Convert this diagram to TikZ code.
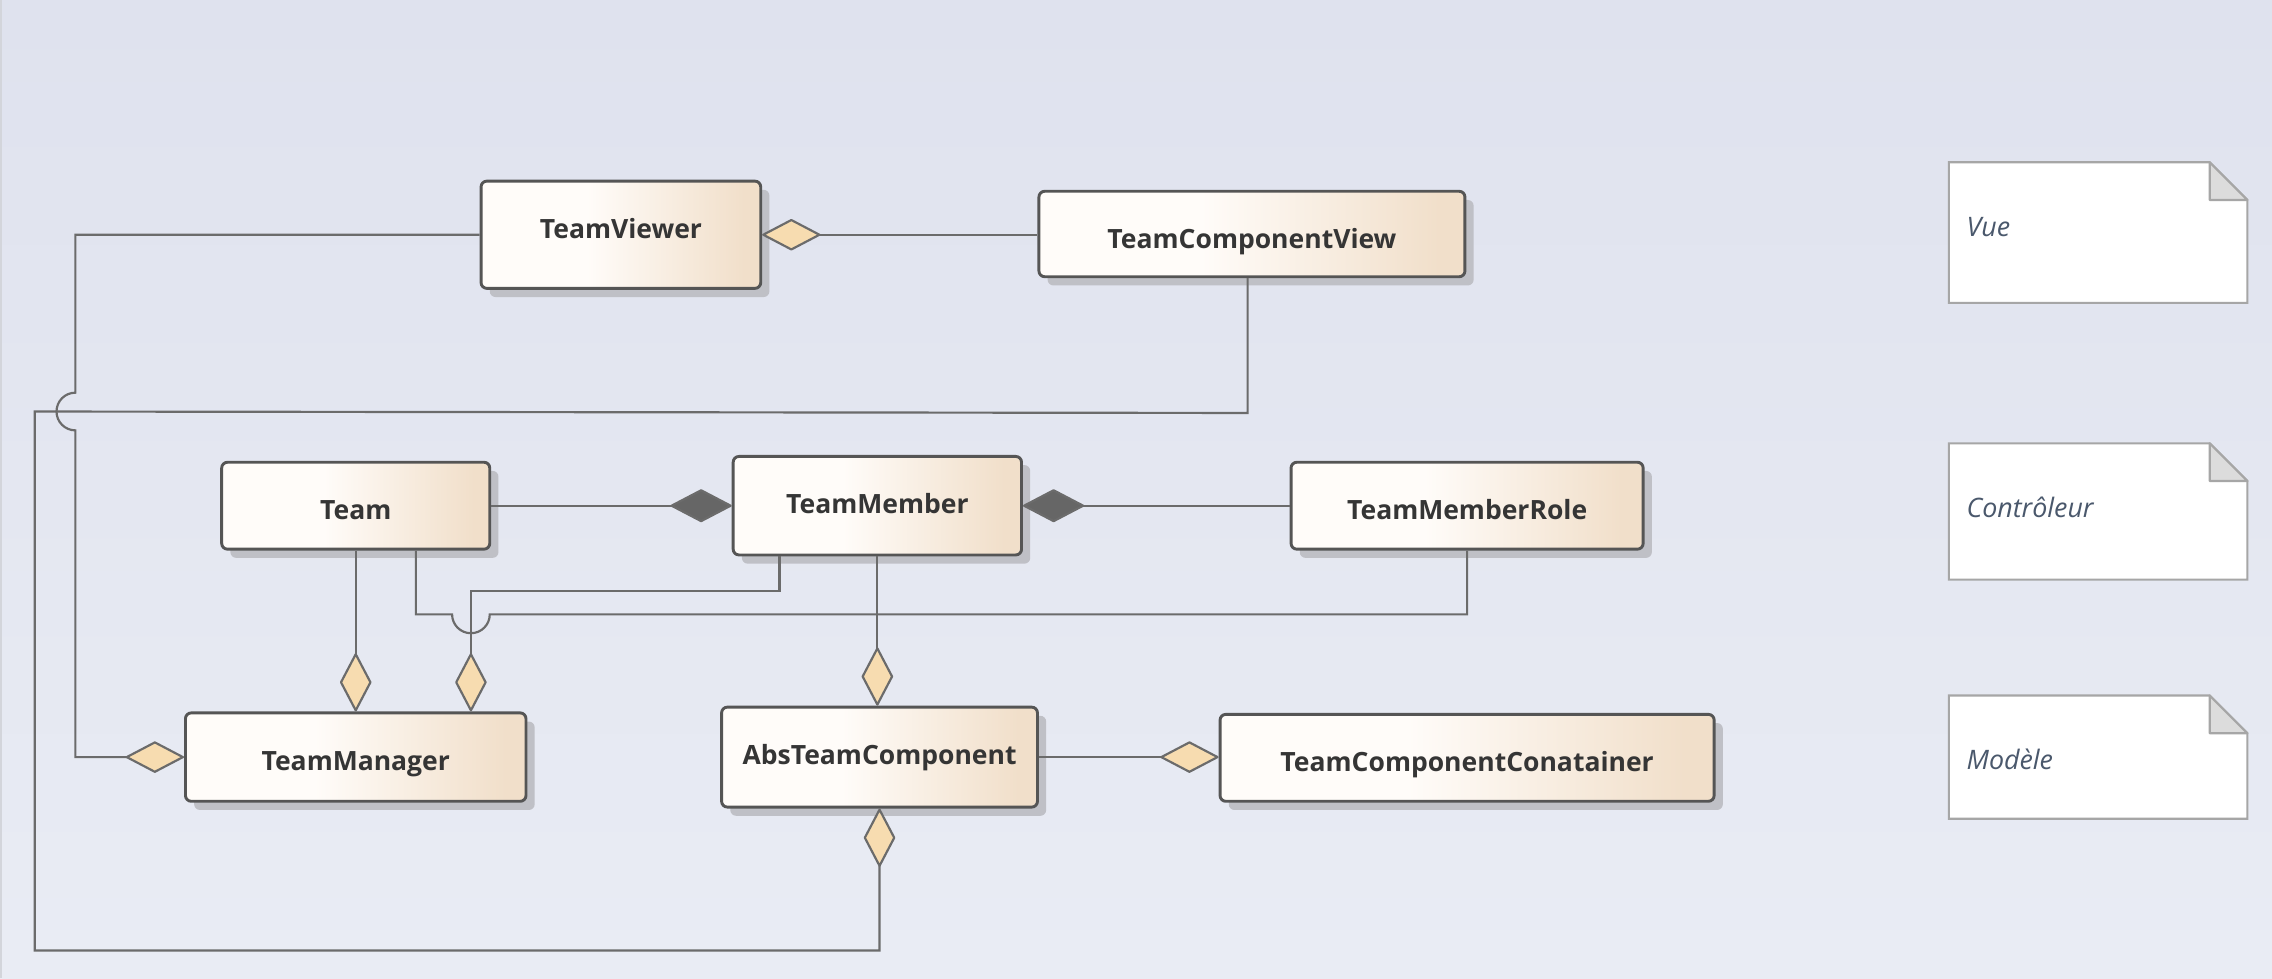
\documentclass[tikz,border=0pt]{standalone}
\usepackage{fontspec}
\setmainfont{Open Sans}
\usetikzlibrary{arrows.meta,shadows,calc}
\definecolor{bgtop}{HTML}{DFE2EE}
\definecolor{bgbot}{HTML}{E9ECF4}
\definecolor{boxl}{HTML}{FFFCF9}
\definecolor{boxr}{HTML}{F1DFCA}
\definecolor{boxline}{HTML}{555555}
\definecolor{connc}{HTML}{6B6B6B}
\definecolor{shadec}{HTML}{BFC0C6}
\definecolor{diac}{HTML}{F7DCB0}
\definecolor{compc}{HTML}{666666}
\definecolor{notel}{HTML}{A6A6A6}
\definecolor{foldc}{HTML}{DCDCDC}
\definecolor{notetext}{HTML}{4A586C}
\definecolor{txtc}{HTML}{353535}
\definecolor{edgec}{HTML}{D3D5DB}
\pgfdeclarehorizontalshading{boxshading}{100bp}{color(0bp)=(boxl); color(44bp)=(boxl); color(72bp)=(boxr); color(100bp)=(boxr)}
\begin{document}
\begin{tikzpicture}[x=1pt,y=-1pt,
  cls/.style={draw=boxline, line width=2pt, rounded corners=4pt, shading=boxshading,
    drop shadow={shadow xshift=6pt, shadow yshift=-6pt, fill=shadec, opacity=1},
    font=\fontsize{18.3}{21}\selectfont\bfseries, text=txtc, inner sep=0pt, text depth=0pt},
  conn/.style={draw=connc, line width=1.5pt},
  aggend/.style={-{Diamond[length=42pt,width=22pt,fill=diac,round]}},
  aggstart/.style={{Diamond[length=42pt,width=22pt,fill=diac,round]}-},
  compend/.style={-{Diamond[length=44pt,width=23pt,fill=compc,round]}},
  compstart/.style={{Diamond[length=44pt,width=23pt,fill=compc,round]}-},
  notebox/.style={draw=notel, fill=white, line width=1.5pt},
  foldbox/.style={draw=notel, fill=foldc, line width=1.5pt, line join=round},
  notetxt/.style={anchor=base west, inner sep=0pt, font=\fontsize{18.5}{21}\selectfont\itshape, text=notetext}
]
\useasboundingbox (0,0) rectangle (1568,675);
\fill[top color=bgtop, bottom color=bgbot] (0,0) rectangle (1568,675);
\draw[edgec, line width=1.5pt] (0.75,0) -- (0.75,675);

% classes
\node[cls, minimum width=193pt, minimum height=74pt, text height=5pt] (TV) at (428.5,162) {TeamViewer};
\node[cls, minimum width=294pt, minimum height=59pt, text height=20pt] (TCV) at (864,161.5) {TeamComponentView};
\node[cls, minimum width=185pt, minimum height=60pt, text height=19pt] (Team) at (245.5,349) {Team};
\node[cls, minimum width=199pt, minimum height=68pt, text height=11pt] (TM) at (605.5,349) {TeamMember};
\node[cls, minimum width=243pt, minimum height=60pt, text height=19pt] (TMR) at (1012.5,349) {TeamMemberRole};
\node[cls, minimum width=235pt, minimum height=61pt, text height=18pt] (TMgr) at (245.5,522.5) {TeamManager};
\node[cls, minimum width=218pt, minimum height=69pt, text height=10pt] (ATC) at (607,522.5) {AbsTeamComponent};
\node[cls, minimum width=341pt, minimum height=60pt, text height=19pt] (TCC) at (1012.5,523) {TeamComponentConatainer};

% connectors
\draw[conn, aggstart] (TV.east) -- (TCV.west |- TV.east);
\draw[conn, aggend] (TV.west) -- (52,162) -- (52,271) arc[start angle=90, end angle=270, radius=13pt] -- (52,522.5) -- (TMgr.west);
\draw[conn, aggend] ($(TCV.south)+(-3,0)$) -- ++(0,93) -- (24,284) -- (24,656) -- (607,656) -- (ATC.south);
\draw[conn, compend] (Team.east) -- (TM.west);
\draw[conn, compstart] (TM.east) -- (TMR.west);
\draw[conn, aggend] (Team.south) -- (TMgr.north);
\draw[conn] ($(Team.south)+(41.5,0)$) -- (287,424) -- (312,424) arc[start angle=180, end angle=360, radius=13pt] -- (1012.5,424) -- (TMR.south);
\draw[conn, aggend] ($(TM.south)+(-67.5,0)$) -- (538,408) -- (325,408) -- ($(TMgr.north)+(79.5,0)$);
\draw[conn, aggend] (TM.south) -- (TM.south |- ATC.north);
\draw[conn, aggend] (ATC.east) -- (TCC.west |- ATC.east);

% notes
\filldraw[notebox] (1345,112) -- (1525,112) -- (1551,138) -- (1551,209) -- (1345,209) -- cycle;
\filldraw[foldbox] (1525,112) -- (1525,138) -- (1551,138) -- cycle;
\node[notetxt] (nVue) at (1357,163) {Vue};

\filldraw[notebox] (1345,306) -- (1525,306) -- (1551,332) -- (1551,400) -- (1345,400) -- cycle;
\filldraw[foldbox] (1525,306) -- (1525,332) -- (1551,332) -- cycle;
\node[notetxt] (nCtrl) at (1357,357) {Contrôleur};

\filldraw[notebox] (1345,480) -- (1525,480) -- (1551,506) -- (1551,565) -- (1345,565) -- cycle;
\filldraw[foldbox] (1525,480) -- (1525,506) -- (1551,506) -- cycle;
\node[notetxt] (nMod) at (1357,531) {Modèle};
\end{tikzpicture}
\end{document}
